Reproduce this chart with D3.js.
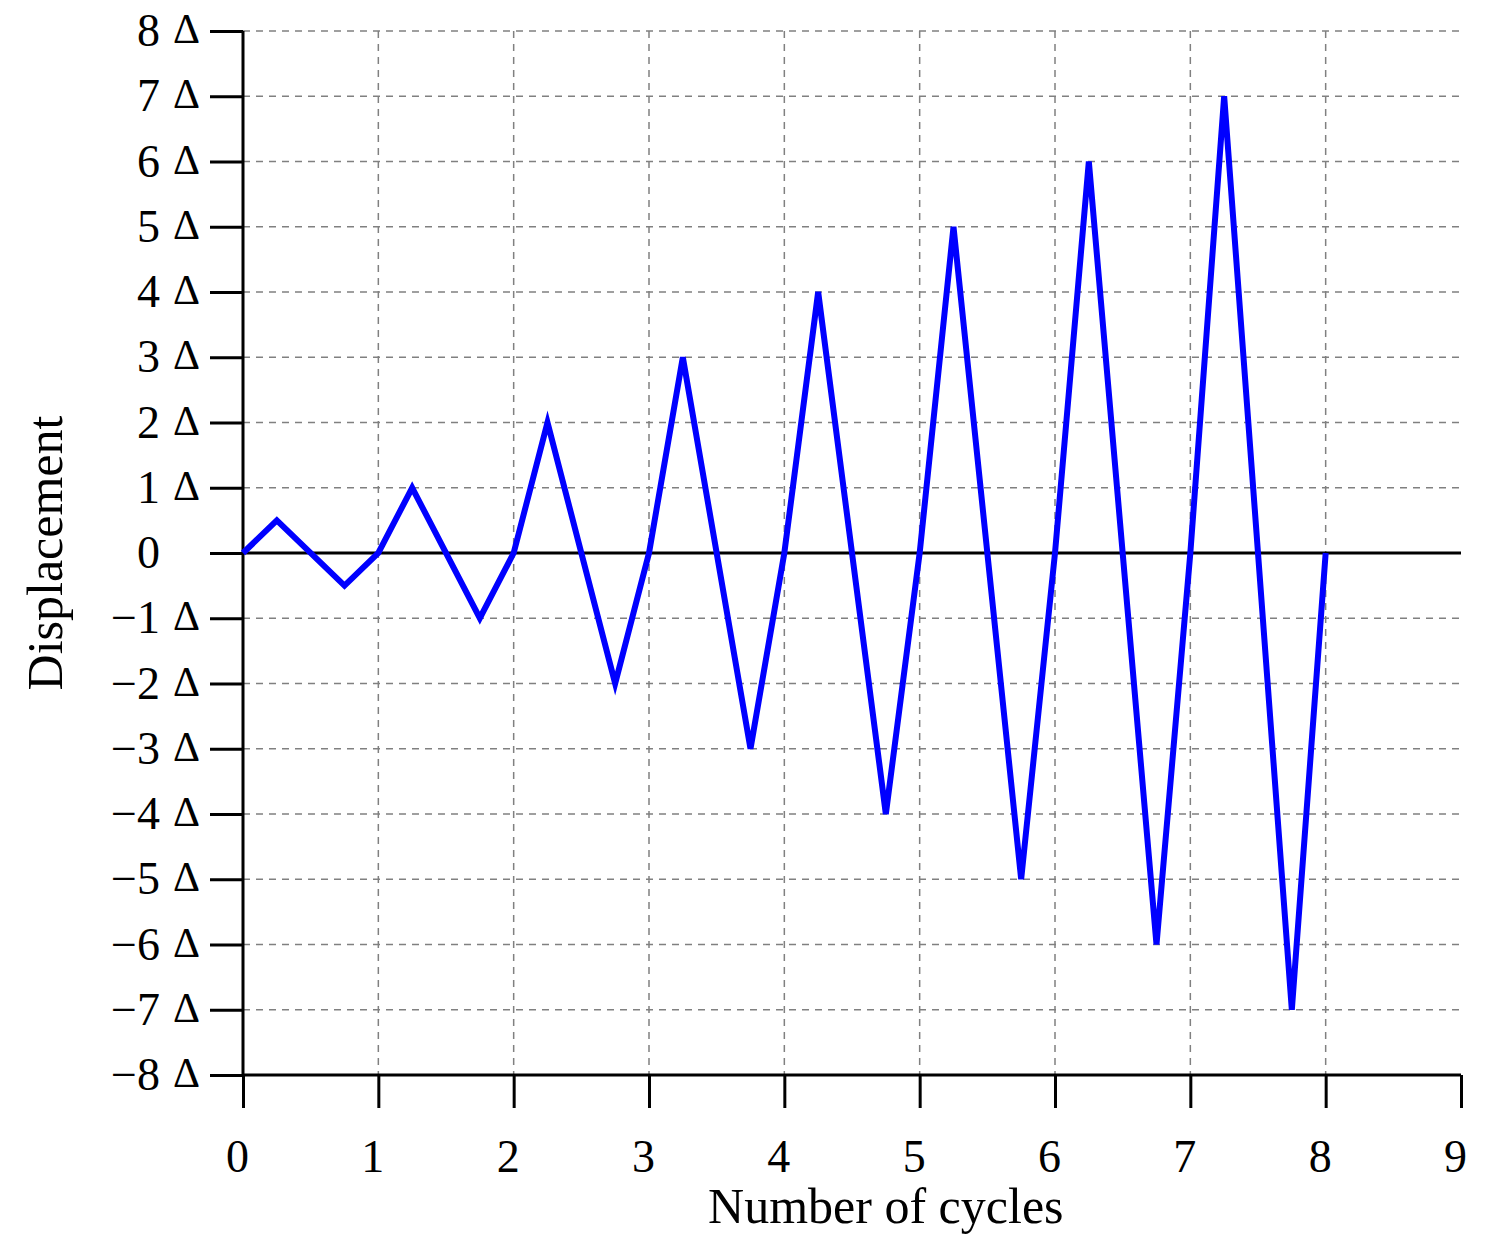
<!DOCTYPE html>
<html><head><meta charset="utf-8">
<script src="https://cdn.jsdelivr.net/npm/d3@7"></script>
<style>body{margin:0;background:#fff}</style></head>
<body><svg id="chart"></svg>
<script>
// Loading history: cycle positions and displacement (in units of Δ)
const cycles = [0, 0.25, 0.75, 1, 1.25, 1.75, 2, 2.25, 2.75, 3, 3.25, 3.75, 4, 4.25, 4.75, 5, 5.25, 5.75, 6, 6.25, 6.75, 7, 7.25, 7.75, 8];
const displacement = [0, 0.5, -0.5, 0, 1, -1, 0, 2, -2, 0, 3, -3, 0, 4, -4, 0, 5, -5, 0, 6, -6, 0, 7, -7, 0];
const xTicks = [0, 1, 2, 3, 4, 5, 6, 7, 8, 9];
const yTicks = [-8, -7, -6, -5, -4, -3, -2, -1, 0, 1, 2, 3, 4, 5, 6, 7, 8];

const W = 1493, H = 1250;
const margin = {top: 31, right: 32, bottom: 175, left: 243};
const width = W - margin.left - margin.right,
      height = H - margin.top - margin.bottom;

const svg = d3.select("#chart").attr("width", W).attr("height", H);
const g = svg.append("g").attr("transform", `translate(${margin.left},${margin.top})`);
const font = "'Liberation Serif', 'Times New Roman', serif";

const x = d3.scaleLinear().domain([0, 9]).range([0, width]);
const y = d3.scaleLinear().domain([-8, 8]).range([height, 0]);

// dashed grid
g.selectAll(".vgrid").data(xTicks.filter(d => d > 0 && d < 9)).enter().append("line")
    .attr("x1", d => x(d)).attr("x2", d => x(d)).attr("y1", 0).attr("y2", height)
    .attr("stroke", "#808080").attr("stroke-width", 1.5).attr("stroke-dasharray", "7,6");
g.selectAll(".hgrid").data(yTicks.filter(d => d !== 0 && d !== -8)).enter().append("line")
    .attr("x1", 0).attr("x2", width).attr("y1", d => y(d)).attr("y2", d => y(d))
    .attr("stroke", "#808080").attr("stroke-width", 1.5).attr("stroke-dasharray", "7,6");

// zero line
g.append("line").attr("x1", 0).attr("x2", width).attr("y1", y(0)).attr("y2", y(0))
    .attr("stroke", "black").attr("stroke-width", 3);

// axes
const xAxis = g.append("g").attr("transform", `translate(0,${height})`)
    .call(d3.axisBottom(x).tickValues(xTicks).tickSize(33).tickFormat(d3.format("d")));
const yAxis = g.append("g")
    .call(d3.axisLeft(y).tickValues(yTicks).tickSize(33).tickFormat(""));
[xAxis, yAxis].forEach(a => {
    a.select(".domain").attr("stroke-width", 3).attr("d",
        a === xAxis ? `M0,0H${width}` : `M0,0V${height}`);
    a.selectAll(".tick line").attr("stroke-width", 3);
});
xAxis.selectAll(".tick text").attr("dy", 0).attr("y", 97).attr("dx", -6)
    .style("font-family", font).style("font-size", "46px").attr("fill", "black");

// y labels: number + Δ
yTicks.forEach(v => {
    const t = g.append("text").attr("y", y(v) + 15)
        .style("font-family", font).style("font-size", "46px").attr("text-anchor", "end");
    if (v === 0) {
        t.attr("x", -83).text("0");
    } else {
        t.attr("x", -83).text(v < 0 ? "\u2212" + Math.abs(v) : v);
        g.append("text").attr("x", -70).attr("y", y(v) + 12)
            .style("font-family", font).style("font-size", "42px").text("\u0394");
    }
});

// line
const pts = cycles.map((c, i) => [c, displacement[i]]);
g.append("path").datum(pts)
    .attr("d", d3.line().x(d => x(d[0])).y(d => y(d[1])))
    .attr("fill", "none").attr("stroke", "#0000ff").attr("stroke-width", 6)
    .attr("stroke-linejoin", "miter");

// axis titles
svg.append("text").attr("x", margin.left + x(4.75)).attr("y", 1223)
    .attr("text-anchor", "middle").style("font-family", font).style("font-size", "50px")
    .text("Number of cycles");
svg.append("text").attr("transform", `translate(62,${margin.top + y(0)}) rotate(-90)`)
    .attr("text-anchor", "middle").style("font-family", font).style("font-size", "50px")
    .text("Displacement");
</script></body></html>
